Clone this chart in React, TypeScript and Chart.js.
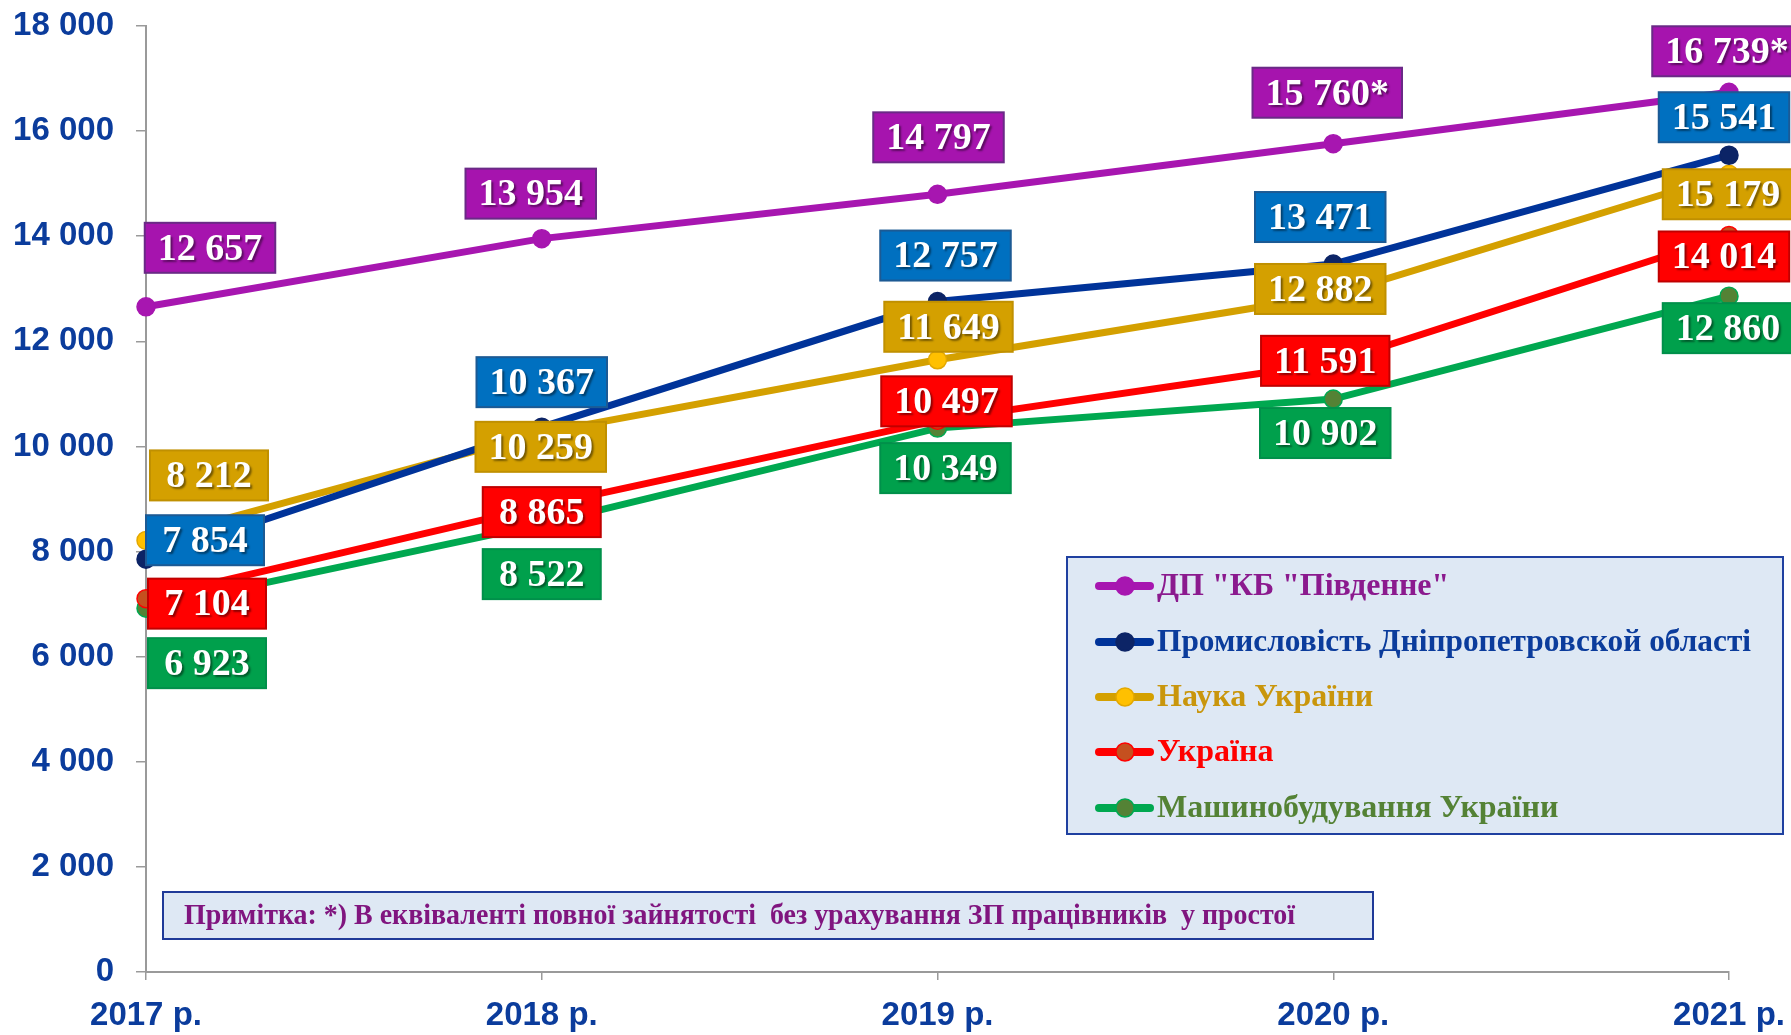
import React, { useEffect, useRef } from "react";
import { Chart, registerables } from "chart.js";

Chart.register(...registerables);

// ---------- data ----------
const years = ["2017 р.", "2018 р.", "2019 р.", "2020 р.", "2021 р."];
const seriesNames = [
  'ДП "КБ "Південне"',
  "Промисловість Дніпропетровской області",
  "Наука України",
  "Україна",
  "Машинобудування України",
];
const kbPivdenne = [12657, 13954, 14797, 15760, 16739];
const dniproIndustry = [7854, 10367, 12757, 13471, 15541];
const scienceUkraine = [8212, 10259, 11649, 12882, 15179];
const ukraine = [7104, 8865, 10497, 11591, 14014];
const machineBuilding = [6923, 8522, 10349, 10902, 12860];
const kbFootnoteMarks = ["", "", "", "*", "*"];
const yMin = 0;
const yMax = 18000;
const yStep = 2000;
const noteText =
  "Примітка: *) В еквіваленті повної зайнятості  без урахування ЗП працівників  у простої";

// ---------- styles ----------
const styles = [
  { line: "#A716B0", point: "#A716B0", pointBorder: "#A716B0", box: "#A614AE", boxBorder: "#6A2A86", legendText: "#8B1A8E" },
  { line: "#003399", point: "#0C2466", pointBorder: "#0C2466", box: "#0070C0", boxBorder: "#1C5A94", legendText: "#0B3C9C" },
  { line: "#D4A000", point: "#FFC000", pointBorder: "#E3A800", box: "#D4A000", boxBorder: "#C09000", legendText: "#C9960C" },
  { line: "#FF0000", point: "#C5501F", pointBorder: "#FF0000", box: "#FF0000", boxBorder: "#C00000", legendText: "#FF0000" },
  { line: "#00A850", point: "#548235", pointBorder: "#00A850", box: "#00A04C", boxBorder: "#00904A", legendText: "#548235" },
];

// label box offsets (px) relative to each point
const labelOffsets = [
  [[64, -59], [-11, -45], [1, -57], [-6, -51], [-2, -41]],
  [[59, -19], [0, -45], [8, -46], [-13, -47], [-5, -38]],
  [[63, -65], [-1, 14], [11, -33], [-13, -6], [-1, 20]],
  [[61, 5], [0, 6], [9, -19], [-8, -2], [-5, 21]],
  [[61, 55], [0, 50], [8, 40], [-8, 34], [-1, 32]],
];

const fmt = (v: number) => String(v).replace(/\B(?=(\d{3})+(?!\d))/g, " ");

const SERIF = '"Liberation Serif", "Times New Roman", serif';
const SANS = '"Liberation Sans", Arial, sans-serif';
const AXIS_BLUE = "#0B3C9C";

const overlayPlugin = {
  id: "overlay",
  afterDatasetsDraw(chart: any) {
    const ctx: CanvasRenderingContext2D = chart.ctx;
    ctx.save();
    chart.data.datasets.forEach((ds: any, di: number) => {
      const meta = chart.getDatasetMeta(di);
      const st = styles[di];
      meta.data.forEach((pt: any, i: number) => {
        const [dx, dy] = labelOffsets[di][i];
        const cx = pt.x + dx;
        const cy = pt.y + dy;
        const text = fmt(ds.data[i]) + (di === 0 ? kbFootnoteMarks[i] : "");
        ctx.font = `bold 38px ${SERIF}`;
        const tw = ctx.measureText(text).width;
        const w = Math.max(tw + 26, 118);
        const h = 50;
        ctx.shadowColor = "transparent";
        ctx.fillStyle = st.box;
        ctx.fillRect(cx - w / 2, cy - h / 2, w, h);
        ctx.strokeStyle = st.boxBorder;
        ctx.lineWidth = 2;
        ctx.strokeRect(cx - w / 2, cy - h / 2, w, h);
        ctx.shadowColor = "rgba(0,0,0,0.45)";
        ctx.shadowOffsetX = 2;
        ctx.shadowOffsetY = 2;
        ctx.shadowBlur = 2;
        ctx.fillStyle = "#FFFFFF";
        ctx.textAlign = "center";
        ctx.textBaseline = "middle";
        ctx.fillText(text, cx, cy + 2);
        ctx.shadowColor = "transparent";
        ctx.shadowOffsetX = 0;
        ctx.shadowOffsetY = 0;
        ctx.shadowBlur = 0;
      });
    });
    ctx.restore();
  },
  afterDraw(chart: any) {
    const ctx: CanvasRenderingContext2D = chart.ctx;
    ctx.save();
    // legend box
    const lx = 1067, ly = 557, lw = 716, lh = 277;
    ctx.fillStyle = "#DEE8F4";
    ctx.fillRect(lx, ly, lw, lh);
    ctx.strokeStyle = "#1F40A0";
    ctx.lineWidth = 2;
    ctx.strokeRect(lx, ly, lw, lh);
    const rowY = [586, 642, 697, 752, 808];
    seriesNames.forEach((name, i) => {
      const st = styles[i];
      const y = rowY[i];
      ctx.strokeStyle = st.line;
      ctx.lineWidth = 8;
      ctx.lineCap = "round";
      ctx.beginPath();
      ctx.moveTo(1099, y);
      ctx.lineTo(1150, y);
      ctx.stroke();
      ctx.fillStyle = st.point;
      ctx.strokeStyle = st.pointBorder;
      ctx.lineWidth = 1.5;
      ctx.beginPath();
      ctx.arc(1125, y, 9, 0, Math.PI * 2);
      ctx.fill();
      ctx.stroke();
      ctx.font = `bold 32px ${SERIF}`;
      ctx.fillStyle = st.legendText;
      ctx.textAlign = "left";
      ctx.textBaseline = "middle";
      ctx.fillText(name, 1157, y + 1, 594);
    });
    // note box
    const nx = 163, ny = 892, nw = 1210, nh = 47;
    ctx.fillStyle = "#DEE8F4";
    ctx.fillRect(nx, ny, nw, nh);
    ctx.strokeStyle = "#1F3A98";
    ctx.lineWidth = 2;
    ctx.strokeRect(nx, ny, nw, nh);
    ctx.font = `bold 30px ${SERIF}`;
    ctx.fillStyle = "#80157F";
    ctx.textAlign = "left";
    ctx.textBaseline = "middle";
    ctx.fillText(noteText, 184, ny + nh / 2 + 1, 1111);
    ctx.restore();
  },
};

const seriesValues = [kbPivdenne, dniproIndustry, scienceUkraine, ukraine, machineBuilding];

export default function App() {
  const ref = useRef<HTMLCanvasElement>(null);
  useEffect(() => {
    const chart = new Chart(ref.current!, {
      type: "line",
      data: {
        labels: years,
        datasets: seriesValues.map((vals, i) => ({
          label: seriesNames[i],
          data: vals,
          borderColor: styles[i].line,
          backgroundColor: styles[i].point,
          pointBackgroundColor: styles[i].point,
          pointBorderColor: styles[i].pointBorder,
          pointBorderWidth: 1.5,
          pointRadius: 9,
          borderWidth: 7,
          tension: 0,
          fill: false,
          clip: false as any,
        })),
      },
      options: {
        responsive: false,
        animation: false,
        devicePixelRatio: 1,
        layout: { padding: { top: 26, right: 62, left: 0, bottom: 0 } },
        plugins: {
          legend: { display: false },
          tooltip: { enabled: false },
        },
        scales: {
          x: {
            type: "category",
            offset: false,
            grid: { display: true, drawOnChartArea: false, drawTicks: true, tickLength: 8, color: "#9A9A9A", lineWidth: 1.5 },
            border: { display: true, color: "#9A9A9A", width: 2 },
            ticks: {
              color: AXIS_BLUE,
              font: { family: SANS, size: 33, weight: "bold" },
              padding: 16,
              maxRotation: 0,
              autoSkip: false,
            },
            afterFit(s: any) {
              s.height = 63;
              s.paddingLeft = 0;
              s.paddingRight = 0;
            },
          },
          y: {
            min: yMin,
            max: yMax,
            grid: { display: true, drawOnChartArea: false, drawTicks: true, tickLength: 10, color: "#9A9A9A", lineWidth: 1.5 },
            border: { display: true, color: "#9A9A9A", width: 2 },
            ticks: {
              stepSize: yStep,
              color: AXIS_BLUE,
              font: { family: SANS, size: 33, weight: "bold" },
              padding: 22,
              callback: (v: any) => fmt(Number(v)),
            },
            afterFit(s: any) {
              s.width = 146;
              s.paddingTop = 0;
              s.paddingBottom = 0;
            },
          },
        },
      },
      plugins: [overlayPlugin],
    } as any);
    return () => chart.destroy();
  }, []);
  return (
    <div style={{ position: "absolute", left: 0, top: 0, width: 1791, height: 1035, background: "#fff" }}>
      <canvas ref={ref} width={1791} height={1035} style={{ display: "block", width: 1791, height: 1035 }} />
    </div>
  );
}
